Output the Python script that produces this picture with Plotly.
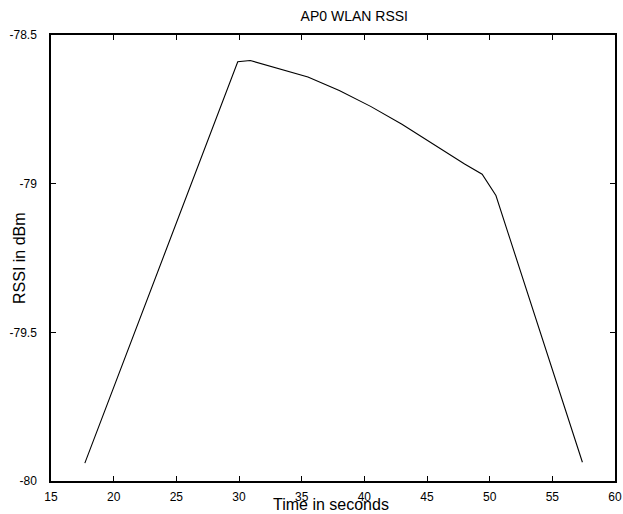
import plotly.graph_objects as go

time_s = [17.7, 29.9, 30.9, 33.0, 35.5, 38.0, 40.5, 43.0, 45.5, 48.0, 49.4, 50.5, 57.4]
rssi_dbm = [-79.94, -78.59, -78.586, -78.610, -78.641, -78.687, -78.740, -78.800,
            -78.868, -78.934, -78.968, -79.04, -79.937]

x_ticks = [15, 20, 25, 30, 35, 40, 45, 50, 55, 60]
y_ticks = [-80, -79.5, -79, -78.5]
y_tick_text = ["-80", "-79.5", "-79", "-78.5"]

FONT = "Liberation Sans, Arial, sans-serif"
L, R, T, B = 51, 615, 35, 481
W, H = 623, 514

fig = go.Figure()
fig.add_trace(go.Scatter(x=time_s, y=rssi_dbm, mode="lines",
                         line=dict(color="black", width=1.1), showlegend=False))

axis_common = dict(showline=True, linecolor="black", linewidth=1.5, mirror="ticks",
                   ticks="inside", ticklen=5, tickwidth=1, tickcolor="black",
                   showgrid=False, zeroline=False, automargin=False,
                   tickfont=dict(family=FONT, size=12, color="black"))

pw, ph = R - L, B - T

fig.update_layout(
    width=W, height=H,
    margin=dict(l=L, r=W - R, t=T, b=H - B, autoexpand=False),
    paper_bgcolor="white", plot_bgcolor="white",
    font=dict(family=FONT, color="black"),
    title=dict(text="AP0 WLAN RSSI", x=335 / W, xanchor="center", xref="paper",
               y=1 - 16 / H, yanchor="middle",
               font=dict(size=14, color="black")),
    xaxis=dict(range=[15, 60], tickvals=x_ticks, ticklabelstandoff=4, **axis_common),
    yaxis=dict(range=[-80, -78.5], tickvals=y_ticks, ticktext=y_tick_text,
               ticklabelstandoff=10, **axis_common),
    annotations=[
        dict(text="Time in seconds", xref="paper", yref="paper",
             x=(331 - L) / pw, y=-(504 - B) / ph, xanchor="center", yanchor="middle",
             showarrow=False, font=dict(family=FONT, size=16, color="black")),
        dict(text="RSSI in dBm", xref="paper", yref="paper",
             x=-(L - 19) / pw, y=1 - (258 - T) / ph, xanchor="center", yanchor="middle",
             textangle=-90,
             showarrow=False, font=dict(family=FONT, size=16, color="black")),
    ],
)

fig.write_html("out.html", config={"displayModeBar": False},
               post_script="document.body.style.margin='0';document.body.style.overflow='hidden';")
